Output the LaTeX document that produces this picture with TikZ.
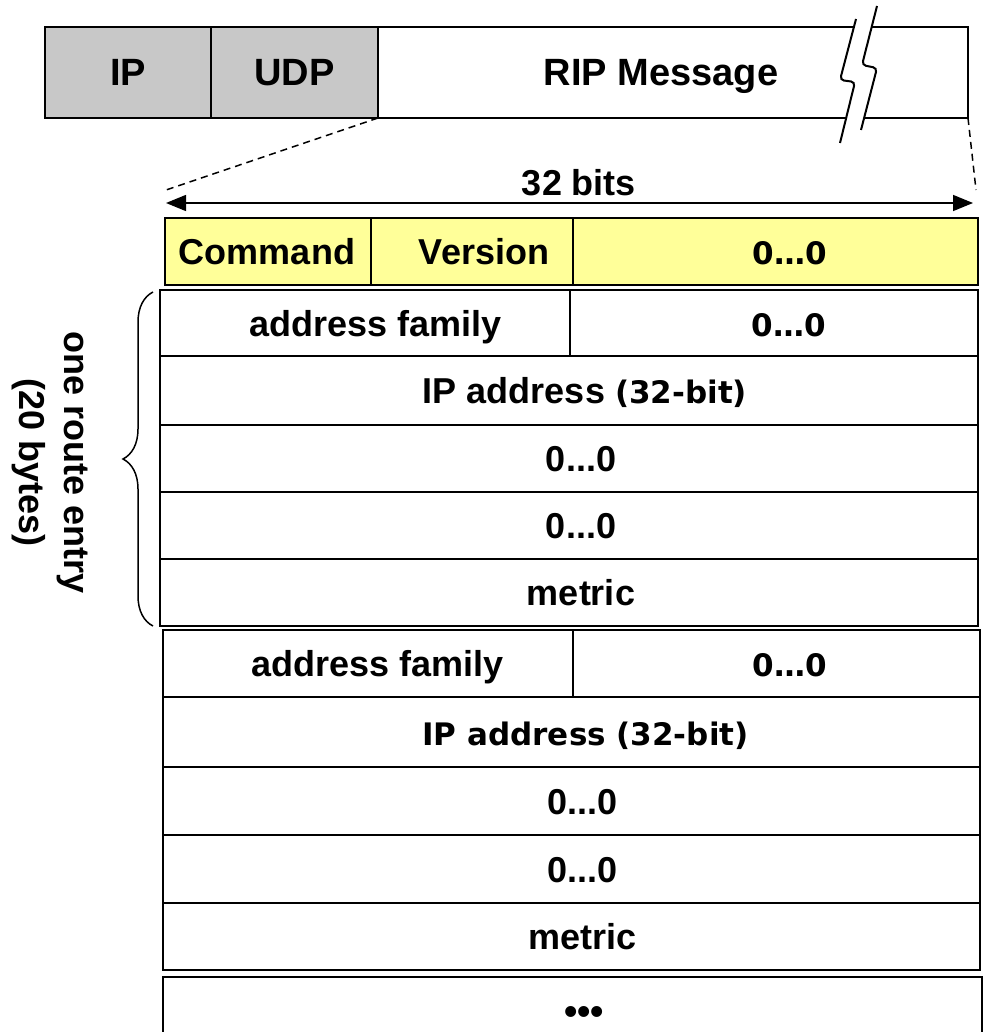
\documentclass[tikz,border=0pt]{standalone}
\usepackage{fontspec}
\setmainfont{Liberation Sans}
\newfontfamily\hum{DejaVu Sans}
\usetikzlibrary{arrows.meta,decorations.pathreplacing}
\definecolor{hdrgray}{RGB}{200,200,200}
\definecolor{hdryellow}{RGB}{255,255,153}
\newcommand{\mycell}[8][]{\node[cell,#1,minimum width={(#5-#3)*1pt},minimum height={(#6-#4)*1pt},
  label={[lbl,xshift=#7pt]center:#8}] (#2) at ({(#3+#5)/2},{(#4+#6)/2}) {};}
\begin{document}
\begin{tikzpicture}[x=1pt,y=-1pt,
  cell/.style={draw,line width=2pt,inner sep=0pt,outer sep=0pt,fill=white},
  lbl/.style={inner sep=0pt,text height=26pt,text depth=0pt,font=\fontsize{36}{40}\selectfont\bfseries},
  dashline/.style={line width=1.5pt,dash pattern=on 7pt off 5pt},
  breakline/.style={line width=2pt,rounded corners=4pt},
  bracestyle/.style={line width=1.5pt,decorate,decoration={brace,amplitude=30pt}}]
\clip (0,0) rectangle (988,1032);
\fill[white] (0,0) rectangle (988,1032);

% top bar
\mycell[fill=hdrgray]{ip}{45}{27}{211}{118}{0}{\fontsize{38}{42}\selectfont IP}
\mycell[fill=hdrgray]{udp}{211}{27}{378}{118}{0}{\fontsize{38}{42}\selectfont UDP}
\mycell{rip}{378}{27}{968}{118}{-12}{\fontsize{38}{42}\selectfont RIP Message}

% break symbol
\fill[white] (856,19) -- (840,80) -- (855,82) -- (840,143) -- (861,130) -- (877,68) -- (862,65) -- (877,6) -- cycle;
\draw[breakline] (856,19) -- (840,80) -- (855,82) -- (840,143);
\draw[breakline] (877,6) -- (862,65) -- (877,68) -- (861,130);

% zoom lines
\coordinate (dl) at (166,190);
\coordinate (dr) at (976,190);
\draw[dashline] (udp.south east) -- (dl);
\draw[dashline] (rip.south east) -- (dr);

% 32 bits arrow
\coordinate (a1) at (166,203);
\coordinate (a2) at (973,203);
\draw[line width=1.5pt,{Triangle[length=20pt,width=16pt]}-{Triangle[length=20pt,width=16pt]}] (a1) -- (a2);
\node[lbl] (bits) at (579,183) {32 bits};

% header
\mycell[fill=hdryellow,line width=2.5pt]{cmd}{165}{218}{371}{285}{-1}{Command}
\mycell[fill=hdryellow,line width=2.5pt]{ver}{371}{218}{573}{285}{12}{Version}
\mycell[fill=hdryellow,line width=2.5pt]{zero}{573}{218}{978}{285}{14}{{\hum\fontsize{31}{36}\selectfont 0…0}}

% route entry 1
\mycell{af1}{160}{290}{570}{356}{11}{address family}
\mycell{z1}{570}{290}{978}{356}{15}{{\hum\fontsize{31}{36}\selectfont 0…0}}
\mycell{ipa1}{160}{356}{978}{425}{16}{IP address {\hum\fontsize{31}{36}\selectfont (32-bit)}}
\mycell{za1}{160}{425}{978}{492}{12}{0...0}
\mycell{zb1}{160}{492}{978}{559}{12}{0...0}
\mycell{met1}{160}{559}{978}{626}{12}{metric}

% route entry 2
\mycell{af2}{163}{630}{573}{697}{10}{address family}
\mycell{z2}{573}{630}{980}{697}{13}{{\hum\fontsize{31}{36}\selectfont 0…0}}
\mycell{ipa2}{163}{697}{980}{767}{14}{{\hum\fontsize{31}{36}\selectfont IP address (32-bit)}}
\mycell{za2}{163}{767}{980}{835}{11}{0...0}
\mycell{zb2}{163}{835}{980}{903}{11}{0...0}
\mycell{met2}{163}{903}{980}{970}{11}{metric}

% more
\node[cell,minimum width=819pt,minimum height=83pt] (more) at (572.5,1018.5) {};
\node[inner sep=0pt,font=\fontsize{38}{40}\selectfont\bfseries] (dots) at (584,1015) {•••};

% brace and label
\coordinate (b1) at (153,626);
\coordinate (b2) at (153,292);
\draw[bracestyle] (b1) -- (b2);
\node[inner sep=0pt,rotate=-90,align=center,font=\fontsize{36}{45}\selectfont\bfseries] (rlabel) at (50,463) {one route entry\\(20 bytes)};
\end{tikzpicture}
\end{document}
